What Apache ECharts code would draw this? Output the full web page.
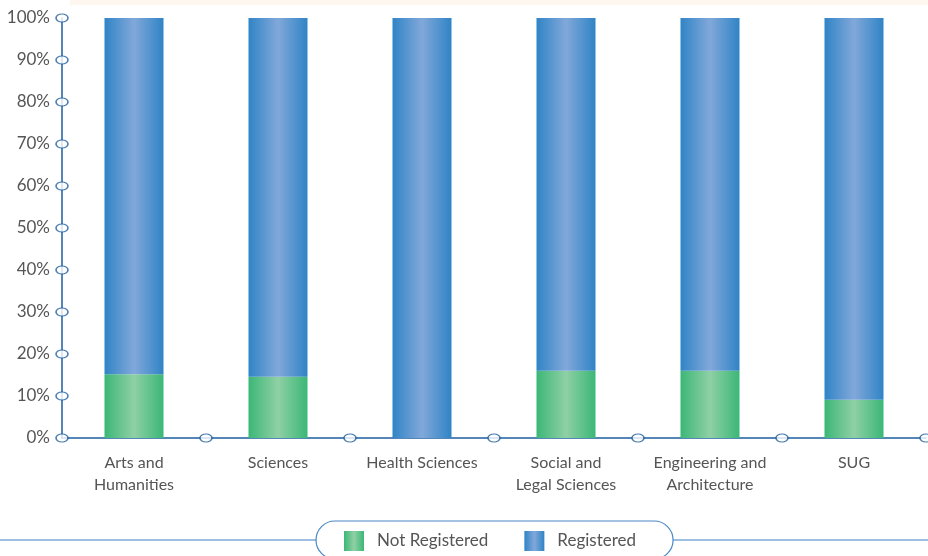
<!DOCTYPE html>
<html>
<head>
<meta charset="utf-8">
<script src="https://cdn.jsdelivr.net/npm/echarts@6/dist/echarts.min.js"></script>
<style>
  html, body { margin: 0; padding: 0; background: #ffffff; }
  #chart { width: 928px; height: 556px; }
</style>
</head>
<body>
<div id="chart"></div>
<script>
// Faculties (category axis)
const categories = [
  'Arts and\nHumanities',
  'Sciences',
  'Health Sciences',
  'Social and\nLegal Sciences',
  'Engineering and\nArchitecture',
  'SUG'
];

// Share of students, in percent
const notRegistered = [15.2, 14.6, 0, 16.0, 16.0, 9.1];
const registered = [84.8, 85.4, 100, 84.0, 84.0, 90.9];

// Value-axis ticks
const yTicks = [0, 10, 20, 30, 40, 50, 60, 70, 80, 90, 100];

const AXIS = '#1d5d9e';
const TEXT = '#555555';
const FONT = 'Lato';

function barGradient(edge, mid) {
  return new echarts.graphic.LinearGradient(0, 0, 1, 0, [
    { offset: 0, color: edge },
    { offset: 0.5, color: mid },
    { offset: 1, color: edge }
  ]);
}

const greenFill = barGradient('#3bb776', '#8fd0a5');
const blueFill = barGradient('#2f84c6', '#82a8da');

// Oval tick markers: category boundaries along the bottom, value ticks along the left
const boundaryMarks = categories.map((_, i) => [i + 1, 0]);
const valueMarks = yTicks.map(v => [0, v]);

const chart = echarts.init(document.getElementById('chart'), null, { renderer: 'canvas' });

chart.setOption({
  animation: false,
  backgroundColor: '#ffffff',
  textStyle: { fontFamily: FONT },
  grid: { left: 62, right: 2, top: 18, bottom: 118, containLabel: false },
  graphic: [
    { type: 'rect', shape: { x: 70, y: 0, width: 858, height: 5 }, style: { fill: '#fdf7ef' }, z: -1 },
    { type: 'line', shape: { x1: 0, y1: 540, x2: 317, y2: 540 }, style: { stroke: '#3b7fc2', lineWidth: 1.2 } },
    { type: 'line', shape: { x1: 673, y1: 540, x2: 928, y2: 540 }, style: { stroke: '#3b7fc2', lineWidth: 1.2 } }
  ],
  legend: {
    data: ['Not Registered', 'Registered'],
    icon: 'rect',
    left: 316,
    top: 521,
    padding: [10, 37, 8, 28],
    itemGap: 36,
    itemWidth: 20,
    itemHeight: 20,
    borderColor: '#4a88c6',
    borderWidth: 1.2,
    borderRadius: 19,
    backgroundColor: '#ffffff',
    textStyle: { color: TEXT, fontSize: 17, fontFamily: FONT, padding: [0, 0, 0, 8] }
  },
  xAxis: [
    {
      type: 'category',
      data: categories,
      axisLine: { lineStyle: { color: AXIS, width: 1.5 } },
      axisTick: { show: false },
      axisLabel: { color: TEXT, fontSize: 16, fontFamily: FONT, margin: 14, lineHeight: 22, interval: 0 }
    },
    {
      type: 'value',
      min: 0,
      max: 6,
      show: false
    }
  ],
  yAxis: {
    type: 'value',
    min: 0,
    max: 100,
    interval: 10,
    axisLine: { show: true, lineStyle: { color: AXIS, width: 1.5 } },
    axisTick: { show: false },
    splitLine: { show: false },
    axisLabel: { color: TEXT, fontSize: 17, fontFamily: FONT, margin: 12, formatter: '{value}%' }
  },
  series: [
    {
      name: 'Not Registered',
      type: 'bar',
      stack: 'share',
      barWidth: 59,
      data: notRegistered,
      itemStyle: { color: greenFill }
    },
    {
      name: 'Registered',
      type: 'bar',
      stack: 'share',
      barWidth: 59,
      data: registered,
      itemStyle: { color: blueFill }
    },
    {
      name: 'boundaryMarks',
      type: 'scatter',
      xAxisIndex: 1,
      data: boundaryMarks.concat(valueMarks),
      symbol: 'circle',
      symbolSize: [12, 8],
      itemStyle: { color: '#ffffff', borderColor: AXIS, borderWidth: 1.3 },
      z: 10,
      silent: true
    }
  ]
});
</script>
</body>
</html>
